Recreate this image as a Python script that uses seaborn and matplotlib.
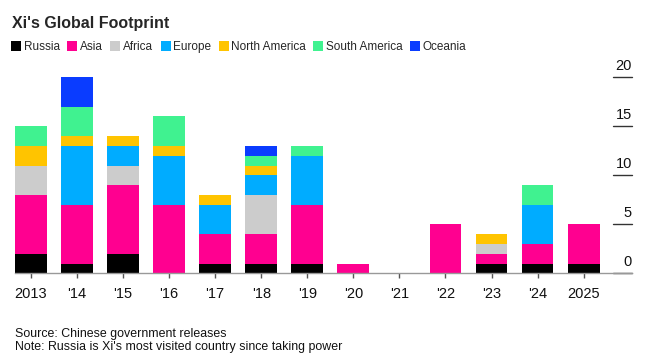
import numpy as np
import pandas as pd
import matplotlib
matplotlib.use("Agg")
import matplotlib.pyplot as plt
from matplotlib.lines import Line2D
import seaborn as sns

years = ['2013', "'14", "'15", "'16", "'17", "'18", "'19", "'20", "'21", "'22", "'23", "'24", '2025']
regions = ['Russia', 'Asia', 'Africa', 'Europe', 'North America', 'South America', 'Oceania']

russia        = [2, 1, 2, 0, 1, 1, 1, 0, 0, 0, 1, 1, 1]
asia          = [6, 6, 7, 7, 3, 3, 6, 1, 0, 5, 1, 2, 4]
africa        = [3, 0, 2, 0, 0, 4, 0, 0, 0, 0, 1, 0, 0]
europe        = [0, 6, 2, 5, 3, 2, 5, 0, 0, 0, 0, 4, 0]
north_america = [2, 1, 1, 1, 1, 1, 0, 0, 0, 0, 1, 0, 0]
south_america = [2, 3, 0, 3, 0, 1, 1, 0, 0, 0, 0, 2, 0]
oceania       = [0, 3, 0, 0, 0, 1, 0, 0, 0, 0, 0, 0, 0]

colors = {'Russia': '#000000', 'Asia': '#ff0090', 'Africa': '#cccccc',
          'Europe': '#00acff', 'North America': '#ffc400',
          'South America': '#40f290', 'Oceania': '#0a3cff'}

yticks = [0, 5, 10, 15, 20]

series = [russia, asia, africa, europe, north_america, south_america, oceania]
rows = []
for reg, vals in zip(regions, series):
    for i, v in enumerate(vals):
        rows.append({'pos': i, 'region': reg, 'count': v})
df = pd.DataFrame(rows)

sns.set_style('white')
plt.rcParams['font.family'] = ['Liberation Sans', 'DejaVu Sans']

fig = plt.figure(figsize=(6.64, 3.6), dpi=100)
ax = fig.add_axes([15/664, 86.7/360, 617/664, 205.8/360])

# stack: first hue level ends up on top, so reverse
sns.histplot(data=df, x='pos', weights='count', hue='region',
             hue_order=regions[::-1], palette=colors, multiple='stack',
             discrete=True, shrink=0.69, linewidth=0, alpha=1,
             legend=False, ax=ax)

ax.set_xlim(-0.345, 13.05)
ax.set_ylim(0, 21)
ax.set_xlabel('')
ax.set_ylabel('')
for s in ['top', 'right', 'left']:
    ax.spines[s].set_visible(False)
ax.spines['bottom'].set_color('#999999')
ax.spines['bottom'].set_linewidth(1)

ax.set_xticks(range(len(years)))
ax.set_xticklabels(years, fontsize=10.5, color='#111111')
ax.tick_params(axis='x', length=3.6, width=1, color='#555555', pad=6.5, bottom=True)
ax.set_yticks([])

ytr = ax.get_yaxis_transform()
for v in yticks:
    ax.plot([0.969, 1.0], [v, v], transform=ytr, color='#333333', lw=1, clip_on=False)
    ax.annotate(str(v), xy=(1.0, v), xycoords=ytr, xytext=(0, 3),
                textcoords='offset points', ha='right', va='bottom',
                fontsize=10.5, color='#111111', annotation_clip=False)

fig.text(12/664, 1 - 28/360, "Xi's Global Footprint", fontsize=11.5,
         fontweight='bold', va='baseline', ha='left')

handles = [Line2D([], [], marker='s', linestyle='none', markersize=7,
                  markerfacecolor=colors[r], markeredgewidth=0) for r in regions]
fig.legend(handles, regions, loc='center left', bbox_to_anchor=(12/664, 1 - 46.7/360),
           ncol=len(regions), frameon=False, fontsize=8.5, handlelength=0.75,
           handletextpad=0.25, columnspacing=0.7, borderaxespad=0, borderpad=0)

fig.text(15/664, 1 - 337/360, 'Source: Chinese government releases', fontsize=8.9,
         va='baseline', color='#111111')
fig.text(15/664, 1 - 350/360, "Note: Russia is Xi's most visited country since taking power",
         fontsize=8.9, va='baseline', color='#111111')

fig.savefig('out.png', dpi=100)
